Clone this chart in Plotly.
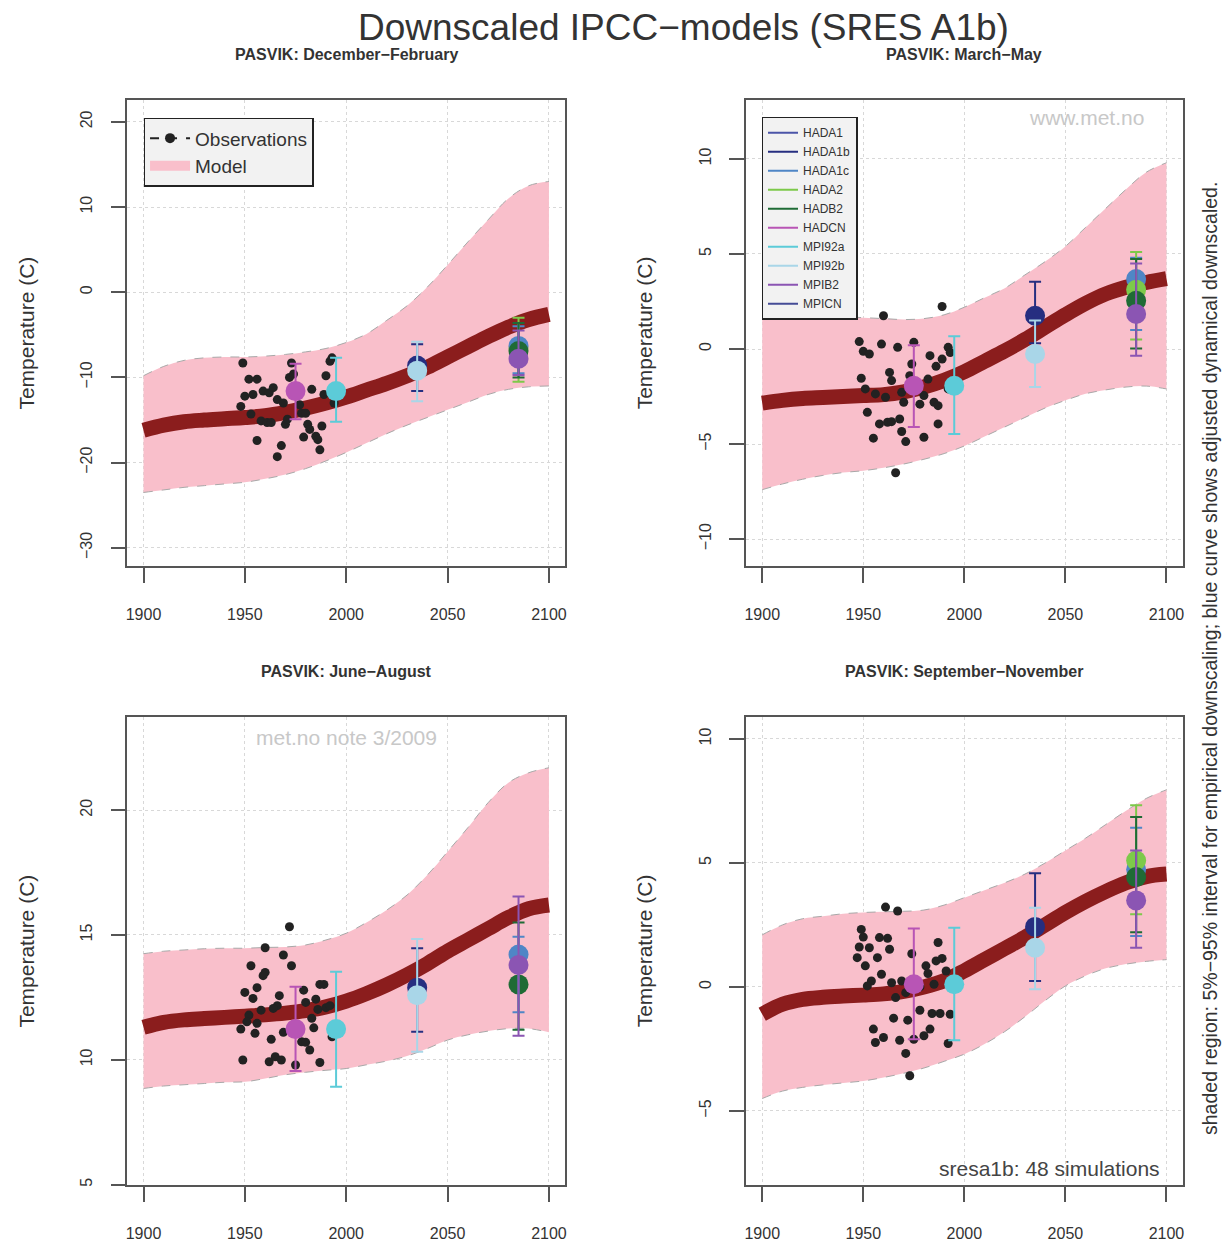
import plotly.graph_objects as go

# ---------------- data ----------------
season_titles = ["PASVIK: December\u2212February", "PASVIK: March\u2212May",
                 "PASVIK: June\u2212August", "PASVIK: September\u2212November"]

x_ticks = [1900, 1950, 2000, 2050, 2100]
y_ticks_djf = [-30, -20, -10, 0, 10, 20]
y_ticks_mam = [-10, -5, 0, 5, 10]
y_ticks_jja = [5, 10, 15, 20]
y_ticks_son = [-5, 0, 5, 10]

decades = [1900, 1910, 1920, 1930, 1940, 1950, 1960, 1970, 1980, 1990, 2000,
           2010, 2020, 2030, 2040, 2050, 2060, 2070, 2080, 2090, 2100]

# central (adjusted) curve
curve_djf = [-16.2, -15.6, -15.2, -15.0, -14.85, -14.7, -14.5, -14.1, -13.6, -13.0, -12.3,
             -11.5, -10.7, -9.8, -8.8, -7.6, -6.4, -5.2, -4.1, -3.2, -2.6]
curve_mam = [-2.85, -2.7, -2.6, -2.55, -2.5, -2.45, -2.4, -2.25, -2.0, -1.65, -1.2,
             -0.65, -0.1, 0.5, 1.15, 1.8, 2.4, 2.9, 3.25, 3.5, 3.7]
curve_jja = [11.3, 11.5, 11.6, 11.65, 11.7, 11.75, 11.8, 11.87, 11.97, 12.12, 12.35,
             12.65, 13.0, 13.4, 13.85, 14.35, 14.8, 15.25, 15.7, 16.05, 16.2]
curve_son = [-1.1, -0.7, -0.5, -0.42, -0.37, -0.33, -0.28, -0.18, 0.0, 0.25, 0.65,
             1.1, 1.55, 2.0, 2.5, 3.0, 3.45, 3.85, 4.2, 4.45, 4.55]

# 5%-95% band
upper_djf = [-9.8, -8.7, -8.0, -7.7, -7.6, -7.6, -7.5, -7.3, -7.0, -6.6, -5.9,
             -4.9, -3.3, -1.6, 0.6, 3.2, 5.9, 8.5, 11.0, 12.5, 13.0]
lower_djf = [-23.5, -23.2, -22.9, -22.7, -22.5, -22.3, -21.9, -21.4, -20.7, -19.8, -18.8,
             -17.7, -16.6, -15.6, -14.7, -13.8, -12.9, -12.0, -11.4, -11.1, -11.0]
upper_mam = [1.6, 1.7, 1.75, 1.75, 1.7, 1.65, 1.6, 1.55, 1.6, 1.8, 2.2,
             2.7, 3.2, 3.9, 4.6, 5.4, 6.4, 7.4, 8.4, 9.3, 9.8]
lower_mam = [-7.4, -7.1, -6.85, -6.65, -6.5, -6.4, -6.25, -6.05, -5.8, -5.5, -5.1,
             -4.6, -4.1, -3.6, -3.1, -2.7, -2.35, -2.15, -2.0, -1.95, -2.1]
upper_jja = [14.25, 14.35, 14.4, 14.45, 14.47, 14.47, 14.5, 14.52, 14.6, 14.8, 15.07,
             15.5, 16.0, 16.6, 17.4, 18.34, 19.3, 20.3, 21.1, 21.5, 21.7]
lower_jja = [8.85, 8.95, 9.0, 9.05, 9.1, 9.12, 9.25, 9.4, 9.5, 9.58, 9.65,
             9.8, 9.95, 10.15, 10.45, 10.79, 11.0, 11.15, 11.25, 11.25, 11.1]
upper_son = [2.1, 2.5, 2.75, 2.85, 2.95, 3.0, 3.03, 3.05, 3.1, 3.3, 3.6,
             3.9, 4.2, 4.55, 5.0, 5.5, 6.0, 6.55, 7.1, 7.6, 7.95]
lower_son = [-4.5, -4.2, -4.05, -3.95, -3.87, -3.79, -3.65, -3.48, -3.27, -3.0, -2.71,
             -2.3, -1.8, -1.2, -0.55, 0.04, 0.45, 0.75, 0.92, 1.03, 1.1]

# observations
obs_years_djf = [1948, 1949, 1950, 1952, 1953, 1954, 1956, 1956, 1958, 1959, 1961, 1962, 1963,
                 1964, 1966, 1966, 1968, 1969, 1970, 1971, 1972, 1973, 1974, 1977, 1978, 1979,
                 1980, 1981, 1982, 1983, 1985, 1986, 1987, 1988, 1989, 1990, 1992, 1993, 1994]
obs_vals_djf = [-13.4, -8.3, -12.2, -10.2, -14.3, -12.0, -10.2, -17.4, -15.1, -11.6, -15.3, -11.8, -15.3,
                -11.2, -12.6, -19.3, -18.0, -13.0, -15.5, -14.9, -10.0, -8.3, -9.6, -13.2, -14.2, -17.0,
                -14.2, -15.5, -16.1, -11.4, -16.9, -17.3, -18.5, -15.7, -12.0, -9.8, -8.1, -7.7, -13.0]

obs_years_mam = [1960, 1989, 1948, 1950, 1953, 1959, 1967, 1975, 1983, 1986, 1989, 1992, 1993,
                 1949, 1951, 1956, 1961, 1964, 1963, 1973, 1974, 1980, 1978, 1982, 1985, 1987,
                 1970, 1969, 1952, 1958, 1962, 1964, 1968, 1969, 1971, 1955, 1980, 1987, 1966, 1992]
obs_vals_mam = [1.75, 2.24, 0.39, -0.12, -0.26, 0.26, 0.09, 0.35, -0.35, -0.91, -0.53, 0.09, -0.18,
                -1.54, -2.1, -2.36, -2.54, -1.66, -1.23, -1.4, -0.79, -2.45, -2.9, -1.58, -2.8, -2.98,
                -2.8, -2.28, -3.33, -3.94, -3.85, -3.82, -3.68, -4.34, -4.87, -4.69, -4.64, -3.94, -6.51, -2.1]

obs_years_jja = [1972, 1960, 1969, 1973, 1953, 1960, 1959, 1956, 1950, 1954, 1967, 1979, 1987, 1989,
                 1980, 1985, 1966, 1964, 1958, 1952, 1951, 1956, 1986, 1990, 1992, 1983, 1948, 1955,
                 1969, 1984, 1963, 1978, 1980, 1982, 1993, 1949, 1962, 1965, 1968, 1975, 1987]
obs_vals_jja = [15.33, 14.49, 14.2, 13.77, 13.77, 13.5, 13.37, 12.89, 12.7, 12.46, 12.57, 12.79, 13.02, 13.02,
                12.3, 12.43, 12.17, 12.06, 11.99, 11.79, 11.52, 11.46, 12.02, 12.09, 12.17, 11.66, 11.23, 11.06,
                11.1, 11.28, 10.82, 10.72, 10.7, 10.39, 10.92, 9.99, 9.92, 10.12, 9.99, 9.79, 9.89]

obs_years_son = [1961, 1967, 1949, 1950, 1958, 1962, 1948, 1953, 1963, 1987, 1947, 1957, 1974, 1986,
                 1989, 1951, 1959, 1981, 1982, 1991, 1954, 1952, 1964, 1969, 1966, 1971, 1978, 1985,
                 1978, 1984, 1988, 1993, 1965, 1972, 1955, 1983, 1960, 1956, 1968, 1980, 1975, 1992,
                 1971, 1973]
obs_vals_son = [3.22, 3.06, 2.32, 2.01, 1.99, 1.96, 1.61, 1.58, 1.52, 1.79, 1.18, 1.18, 1.34, 1.05,
                1.15, 0.85, 0.51, 0.85, 0.54, 0.64, 0.24, 0.04, 0.17, 0.24, -0.43, -0.23, 0.0, 0.11,
                -0.94, -1.07, -1.07, -1.1, -1.26, -1.34, -1.7, -1.7, -2.04, -2.24, -2.15, -1.97, -2.11, -2.28,
                -2.68, -3.58]

# downscaled GCM time-slice estimates (model, period-centre, mean, 5%, 95%)
model_names = ["HADA1", "HADA1b", "HADA1c", "HADA2", "HADB2", "HADCN",
               "MPI92a", "MPI92b", "MPIB2", "MPICN"]
model_colors = ["#4b55a8", "#262e80", "#4f86c6", "#7dc94a", "#1f6b35", "#b855b5",
                "#5ccbd8", "#a9d6e8", "#8b55b3", "#454c96"]

pts_model_djf = ["HADCN", "MPI92a", "HADA1b", "MPI92b", "HADA2", "HADA1c", "HADB2", "MPIB2"]
pts_year_djf = [1975, 1995, 2035, 2035, 2085, 2085, 2085, 2085]
pts_val_djf = [-11.6, -11.6, -8.6, -9.2, -6.6, -6.3, -6.9, -7.8]
pts_lo_djf = [-14.9, -15.2, -11.6, -12.8, -10.5, -9.5, -10.0, -9.7]
pts_hi_djf = [-8.4, -7.7, -6.1, -5.8, -3.0, -4.0, -3.6, -4.5]

pts_model_mam = ["HADCN", "MPI92a", "HADA1b", "MPI92b", "HADA1c", "HADA2", "HADB2", "MPIB2"]
pts_year_mam = [1975, 1995, 2035, 2035, 2085, 2085, 2085, 2085]
pts_val_mam = [-1.93, -1.93, 1.75, -0.26, 3.68, 3.12, 2.54, 1.84]
pts_lo_mam = [-4.1, -4.47, 0.3, -2.0, 1.0, 0.5, 0.03, -0.35]
pts_hi_mam = [0.2, 0.67, 3.54, 1.5, 4.8, 5.1, 4.73, 4.5]

pts_model_jja = ["HADCN", "MPI92a", "HADA1b", "MPI92b", "HADB2", "HADA1c", "MPIB2"]
pts_year_jja = [1975, 1995, 2035, 2035, 2085, 2085, 2085]
pts_val_jja = [11.23, 11.23, 12.89, 12.59, 13.02, 14.22, 13.8]
pts_lo_jja = [9.55, 8.92, 11.12, 10.32, 11.2, 11.9, 10.96]
pts_hi_jja = [12.93, 13.53, 14.47, 14.84, 15.5, 14.93, 16.54]

pts_model_son = ["HADCN", "MPI92a", "HADA1b", "MPI92b", "HADA1c", "HADA2", "HADB2", "MPIB2"]
pts_year_son = [1975, 1995, 2035, 2035, 2085, 2085, 2085, 2085]
pts_val_son = [0.11, 0.11, 2.42, 1.58, 4.74, 5.1, 4.43, 3.49]
pts_lo_son = [-2.11, -2.15, 0.24, -0.09, 2.05, 2.93, 2.2, 1.58]
pts_hi_son = [2.36, 2.39, 4.58, 3.19, 6.42, 7.33, 6.85, 5.5]

# ---------------- styling / layout ----------------
W, H = 1223, 1245
FONT = "Liberation Sans, Arial, Helvetica, sans-serif"
PINK = "#f9bfcb"
CURVE = "#8b1d1d"
AXIS = "#555555"
TXT = "#333333"

color_of = dict(zip(model_names, model_colors))

seasons = [
    dict(curve=curve_djf, up=upper_djf, lo=lower_djf, oy=obs_years_djf, ov=obs_vals_djf,
         pm=pts_model_djf, px=pts_year_djf, pv=pts_val_djf, pl=pts_lo_djf, ph=pts_hi_djf,
         yticks=y_ticks_djf, yrange=[-32.14, 22.58]),
    dict(curve=curve_mam, up=upper_mam, lo=lower_mam, oy=obs_years_mam, ov=obs_vals_mam,
         pm=pts_model_mam, px=pts_year_mam, pv=pts_val_mam, pl=pts_lo_mam, ph=pts_hi_mam,
         yticks=y_ticks_mam, yrange=[-11.42, 13.11]),
    dict(curve=curve_jja, up=upper_jja, lo=lower_jja, oy=obs_years_jja, ov=obs_vals_jja,
         pm=pts_model_jja, px=pts_year_jja, pv=pts_val_jja, pl=pts_lo_jja, ph=pts_hi_jja,
         yticks=y_ticks_jja, yrange=[4.98, 23.74]),
    dict(curve=curve_son, up=upper_son, lo=lower_son, oy=obs_years_son, ov=obs_vals_son,
         pm=pts_model_son, px=pts_year_son, pv=pts_val_son, pl=pts_lo_son, ph=pts_hi_son,
         yticks=y_ticks_son, yrange=[-7.99, 10.89]),
]

# plot-area boxes in pixels (left, right, top, bottom)
boxes = [(125.7, 565.0, 100, 567), (746.5, 1184.5, 100, 567),
         (125.7, 565.0, 718, 1187), (746.5, 1184.5, 718, 1187)]

fig = go.Figure()
layout = dict(width=W, height=H, margin=dict(l=0, r=0, t=0, b=0),
              paper_bgcolor="white", plot_bgcolor="white",
              font=dict(family=FONT, color=TXT), showlegend=True)
annotations = []

for i, (s, box) in enumerate(zip(seasons, boxes)):
    k = "" if i == 0 else str(i + 1)
    xa, ya = "x" + k, "y" + k
    left, right, top, bottom = box
    xd = [left / W, right / W]
    yd = [1 - bottom / H, 1 - top / H]
    common = dict(showline=True, mirror=True, linecolor=AXIS, linewidth=1.5,
                  ticks="outside", ticklen=15, tickwidth=1.5, tickcolor=AXIS,
                  showgrid=True, gridcolor="#d8d8d8", griddash="dot", gridwidth=1.2,
                  zeroline=False, tickfont=dict(size=16, color=TXT, family=FONT))
    layout["xaxis" + k] = dict(domain=xd, range=[1892, 2108], tickvals=x_ticks,
                               anchor=ya, ticklabelstandoff=18, **common)
    layout["yaxis" + k] = dict(domain=yd, range=s["yrange"], tickvals=s["yticks"],
                               anchor=xa, tickangle=-90, ticklabelstandoff=12, **common)

    # band
    fig.add_trace(go.Scatter(x=decades, y=s["lo"], mode="lines", xaxis=xa, yaxis=ya,
                             line=dict(color="#a8a8a8", width=1, dash="dash", shape="spline"),
                             showlegend=False, hoverinfo="skip"))
    fig.add_trace(go.Scatter(x=decades, y=s["up"], mode="lines", xaxis=xa, yaxis=ya,
                             fill="tonexty", fillcolor=PINK,
                             line=dict(color="#a8a8a8", width=1, dash="dash", shape="spline"),
                             showlegend=False, hoverinfo="skip"))
    # central curve
    fig.add_trace(go.Scatter(x=decades, y=s["curve"], mode="lines", xaxis=xa, yaxis=ya,
                             line=dict(color=CURVE, width=15, shape="spline"),
                             showlegend=False))
    # observations
    fig.add_trace(go.Scatter(x=s["oy"], y=s["ov"], mode="markers", xaxis=xa, yaxis=ya,
                             marker=dict(color="#222222", size=9),
                             showlegend=False))
    # model estimates
    for m, xv, v, lo, hi in zip(s["pm"], s["px"], s["pv"], s["pl"], s["ph"]):
        c = color_of[m]
        fig.add_trace(go.Scatter(x=[xv], y=[v], mode="markers", xaxis=xa, yaxis=ya,
                                 marker=dict(color=c, size=20),
                                 error_y=dict(type="data", symmetric=False,
                                              array=[hi - v], arrayminus=[v - lo],
                                              color=c, thickness=2, width=6),
                                 showlegend=False, name=m))

    # panel title
    annotations.append(dict(text="<b>" + season_titles[i] + "</b>", xref="paper", yref="paper",
                            x=(left + right) / 2 / W, y=1 - (top - 45) / H,
                            xanchor="center", yanchor="middle", showarrow=False,
                            font=dict(size=16, color=TXT, family=FONT)))
    # y-axis title
    annotations.append(dict(text="Temperature (C)", xref="paper", yref="paper",
                            x=(left - 101) / W, y=1 - (top + bottom) / 2 / H,
                            xanchor="center", yanchor="middle", textangle=-90, showarrow=False,
                            font=dict(size=21, color=TXT, family=FONT)))

# legend entries
fig.add_trace(go.Scatter(x=[None], y=[None], mode="lines+markers", name="Observations",
                         line=dict(color="#222222", width=2, dash="dash"),
                         marker=dict(color="#222222", size=10), legend="legend"))
fig.add_trace(go.Scatter(x=[None], y=[None], mode="lines", name="Model",
                         line=dict(color=PINK, width=12), legend="legend"))
for m, c in zip(model_names, model_colors):
    fig.add_trace(go.Scatter(x=[None], y=[None], mode="lines", name=m,
                             line=dict(color=c, width=2), legend="legend2",
                             xaxis="x2", yaxis="y2"))

layout["legend"] = dict(x=142 / W, y=1 - 118 / H, xanchor="left", yanchor="top",
                        bgcolor="#f2f2f2", bordercolor="#222222", borderwidth=1.5,
                        font=dict(size=19, color=TXT, family=FONT), itemwidth=40,
                        tracegroupgap=0, traceorder="normal")
layout["legend2"] = dict(x=762 / W, y=1 - 117 / H, xanchor="left", yanchor="top",
                         bgcolor="#f2f2f2", bordercolor="#222222", borderwidth=1.5,
                         font=dict(size=12, color=TXT, family=FONT), itemwidth=30,
                         tracegroupgap=0, traceorder="normal")

# main title and notes
annotations.append(dict(text="Downscaled IPCC\u2212models (SRES A1b)", xref="paper", yref="paper",
                        x=684 / W, y=1 - 28 / H, xanchor="center", yanchor="middle",
                        showarrow=False, font=dict(size=37, color=TXT, family=FONT)))
annotations.append(dict(text="shaded region: 5%\u221295% interval for empirical downscaling; "
                             "blue curve shows adjusted dynamical downscaled.",
                        xref="paper", yref="paper", x=1212 / W, y=1 - 660 / H,
                        xanchor="center", yanchor="middle", textangle=-90, showarrow=False,
                        font=dict(size=19.5, color=TXT, family=FONT)))
annotations.append(dict(text="www.met.no", xref="paper", yref="paper",
                        x=1088 / W, y=1 - 118 / H, xanchor="center", yanchor="middle",
                        showarrow=False, font=dict(size=21, color="#c8c8c8", family=FONT)))
annotations.append(dict(text="met.no note 3/2009", xref="paper", yref="paper",
                        x=346 / W, y=1 - 739 / H, xanchor="center", yanchor="middle",
                        showarrow=False, font=dict(size=21, color="#c8c8c8", family=FONT)))
annotations.append(dict(text="sresa1b: 48 simulations", xref="paper", yref="paper",
                        x=1164 / W, y=1 - 1170 / H, xanchor="right", yanchor="middle",
                        showarrow=False, font=dict(size=21, color="#444444", family=FONT)))

layout["annotations"] = annotations
fig.update_layout(**layout)
fig.write_html("out.html", config={"displayModeBar": False},
               post_script="document.body.style.margin='0';document.body.style.overflow='hidden';")
